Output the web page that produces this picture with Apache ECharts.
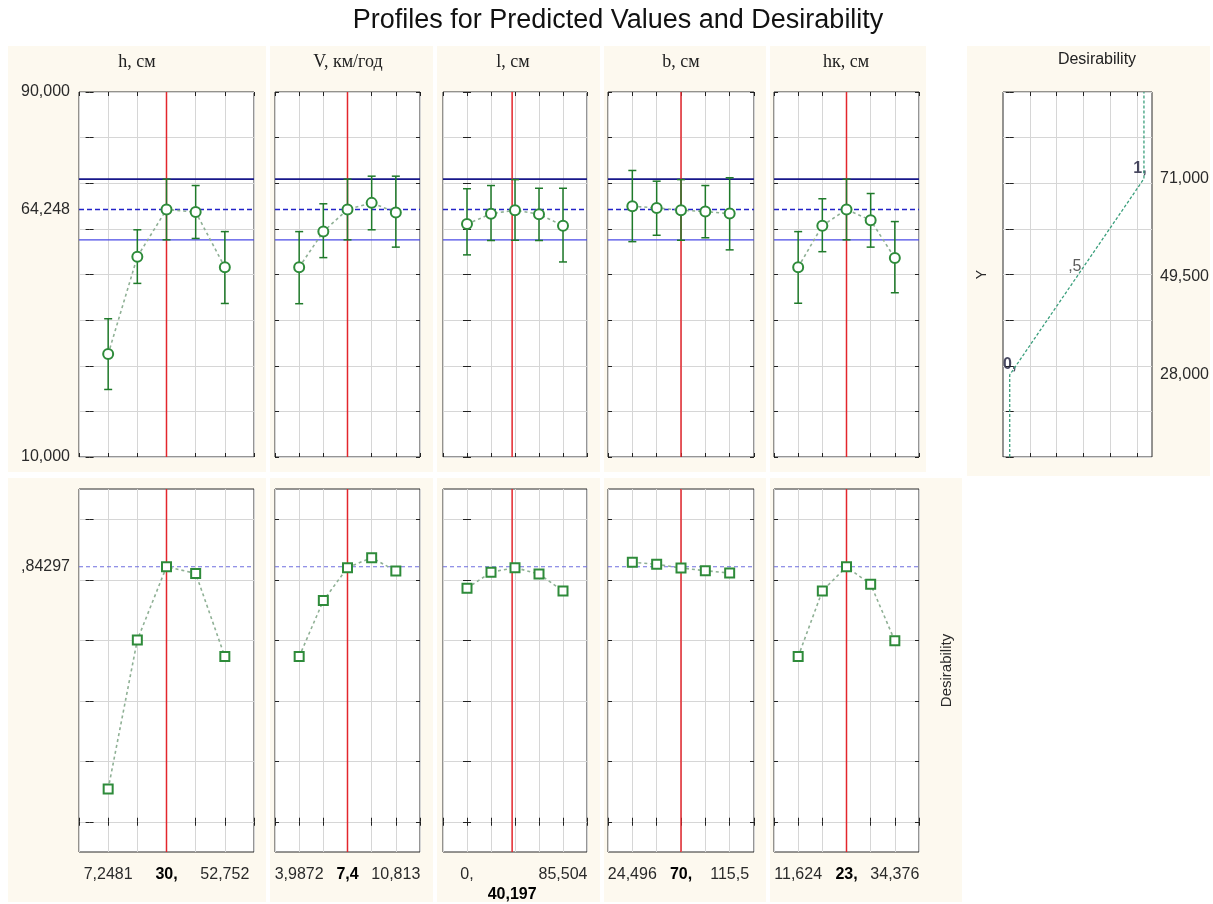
<!DOCTYPE html>
<html><head><meta charset="utf-8">
<script src="https://cdn.jsdelivr.net/npm/echarts@6/dist/echarts.min.js"></script>
<style>html,body{margin:0;padding:0;background:#fff}#c{width:1213px;height:904px}</style>
</head><body><div id="c"></div><script>
// ---------------- DATA ----------------
const chartTitle = 'Profiles for Predicted Values and Desirability';
const factorNames = ['h, см', 'V, км/год', 'l, см', 'b, см', 'hк, см'];
const levels = [
  [7.2481, 18.62405, 30, 41.37595, 52.752],
  [3.9872, 5.6936, 7.4, 9.1064, 10.813],
  [0, 21.376, 42.752, 64.128, 85.504],
  [24.496, 47.247, 69.998, 92.749, 115.5],
  [11.624, 17.312, 23, 28.688, 34.376]
];
const currentValues = [30, 7.4, 40.197, 70, 23];
const xLabelTexts = [
  ['7,2481', '30,', '52,752'],
  ['3,9872', '7,4', '10,813'],
  ['0,', '40,197', '85,504'],
  ['24,496', '70,', '115,5'],
  ['11,624', '23,', '34,376']
];
const predicted = [
  [32.55, 53.9, 64.25, 63.7, 51.6],
  [51.6, 59.4, 64.25, 65.7, 63.6],
  [61.05, 63.3, 64.1, 63.2, 60.7],
  [64.95, 64.6, 64.1, 63.8, 63.35],
  [51.6, 60.7, 64.25, 61.9, 53.6]
];
const ciLower = [
  [24.8, 48.05, 57.6, 57.9, 43.65],
  [43.6, 53.7, 57.6, 59.8, 56.0],
  [54.3, 57.45, 57.5, 57.45, 52.75],
  [57.2, 58.6, 57.5, 58.05, 55.4],
  [43.7, 55.0, 57.6, 56.0, 46.0]
];
const ciUpper = [
  [40.3, 59.8, 70.9, 69.5, 59.4],
  [59.4, 65.5, 70.9, 71.55, 71.55],
  [68.8, 69.5, 70.8, 68.9, 68.9],
  [72.8, 70.45, 70.8, 69.5, 71.2],
  [59.4, 66.6, 70.9, 67.75, 61.6]
];
const desirability = [
  [0.108, 0.601, 0.843, 0.821, 0.546],
  [0.546, 0.731, 0.840, 0.873, 0.829],
  [0.772, 0.825, 0.840, 0.819, 0.763],
  [0.858, 0.851, 0.839, 0.830, 0.822],
  [0.546, 0.763, 0.843, 0.785, 0.598]
];
const predCurrent = 64.248, ciCurrentUpper = 70.9, ciCurrentLower = 57.6, desirCurrent = 0.84297;
const yTickValues = [10, 20, 30, 40, 50, 60, 70, 80, 90];
const yLabelValues = [10, 64.248, 90];
const yLabelTexts = ['10,000', '64,248', '90,000'];
const dTickValues = [0, 0.2, 0.4, 0.6, 0.8, 1.0];
const dLabelValues = [0.84297];
const dLabelTexts = [',84297'];
// desirability function (Desirability vs Y)
const desFuncD = [0, 0, 0.5, 1, 1];
const desFuncY = [10, 28, 49.5, 71, 90];
const desPointD = [0, 0.5, 1];
const desPointY = [28, 49.5, 71];
const desPointTexts = ['0,', ',5', '1,'];
const desYLabelValues = [28, 49.5, 71];
const desYLabelTexts = ['28,000', '49,500', '71,000'];
const desXTicks = [0.15, 0.35, 0.55, 0.75, 0.95];

// ---------------- LAYOUT ----------------
const panelX = [[79, 254], [275, 420], [443, 587], [608, 754], [774, 919]];
const topRow = {top: 92, height: 365};
const botRow = {top: 489, height: 363};
const desPanel = {left: 1003, width: 149};
const headerX = [137, 348, 513, 681, 846];
const SANS = 'Liberation Sans, Arial, sans-serif';
const SERIF = 'Liberation Serif, Times New Roman, serif';

const grids = [], xAxes = [], yAxes = [], series = [];
const splitL = {show: true, lineStyle: {color: '#d6d6d6', width: 1}};
const tickS = {show: true, inside: true, length: 4, lineStyle: {color: '#222', width: 1}};
const labelS = {fontFamily: SANS, fontSize: 16, color: '#2a2a2a'};

function near(a, b) { return Math.abs(a - b) < 1e-6; }
function fmtFrom(vals, texts) {
  return function (v) { for (let k = 0; k < vals.length; k++) if (near(v, vals[k])) return texts[k]; return ''; };
}
function addGrid(left, top, width, height) {
  grids.push({left, top, width, height, show: true, backgroundColor: '#fff', borderColor: '#2a2a2a', borderWidth: 1,
    containLabel: false, outerBoundsMode: 'none'});
  return grids.length - 1;
}
function addX(g, min, max, ticks, label) {
  xAxes.push({type: 'value', gridIndex: g, position: 'bottom', min, max,
    axisLine: {show: false}, axisTick: Object.assign({}, tickS, {customValues: ticks}), splitLine: splitL,
    axisLabel: label || {show: false}});
  xAxes.push({type: 'value', gridIndex: g, position: 'top', min, max,
    axisLine: {show: false}, axisTick: Object.assign({}, tickS, {customValues: ticks}), splitLine: {show: false},
    axisLabel: {show: false}});
  return xAxes.length - 2;
}
function addY(g, min, max, ticks, leftLabel, rightExtra, mainRight) {
  const main = {type: 'value', gridIndex: g, position: mainRight ? 'right' : 'left', min, max,
    axisLine: {show: false}, axisTick: Object.assign({}, tickS, {customValues: ticks}), splitLine: splitL,
    axisLabel: leftLabel || {show: false}};
  const helper = Object.assign({type: 'value', gridIndex: g, position: mainRight ? 'left' : 'right', min, max,
    axisLine: {show: false}, axisTick: Object.assign({}, tickS, {customValues: ticks}), splitLine: {show: false},
    axisLabel: {show: false}}, rightExtra || {});
  yAxes.push(main); yAxes.push(helper);
  return yAxes.length - 2;
}
// reference line segment drawn through the axes' scales (custom series)
function refLine(xi, yi, pts, color, width, dash, z) {
  series.push({type: 'custom', xAxisIndex: xi, yAxisIndex: yi, silent: true, animation: false, z: z || 3,
    encode: {x: [0, 2], y: [1, 3]},
    data: [[pts[0][0], pts[0][1], pts[1][0], pts[1][1]]],
    renderItem: function (params, api) {
      const a = api.coord([api.value(0), api.value(1)]);
      const b = api.coord([api.value(2), api.value(3)]);
      return {type: 'line', shape: {x1: a[0], y1: a[1], x2: b[0], y2: b[1]},
        style: {stroke: color, lineWidth: width, lineDash: dash || null, fill: null}};
    }});
}

function errorBarItem(params, api) {
  const x = api.value(0), lo = api.value(1), hi = api.value(2);
  const a = api.coord([x, lo]), b = api.coord([x, hi]);
  const c = 4;
  const st = {stroke: '#1f7a2a', lineWidth: 1.5};
  return {type: 'group', children: [
    {type: 'line', shape: {x1: a[0], y1: a[1], x2: b[0], y2: b[1]}, style: st},
    {type: 'line', shape: {x1: a[0] - c, y1: a[1], x2: a[0] + c, y2: a[1]}, style: st},
    {type: 'line', shape: {x1: b[0] - c, y1: b[1], x2: b[0] + c, y2: b[1]}, style: st}
  ]};
}

for (let p = 0; p < 5; p++) {
  const L = levels[p];
  const step = (L[4] - L[0]) / 4;
  const xmin = L[0] - step, xmax = L[4] + step;
  const xt = [xmin].concat(L, [xmax]);
  const [x0, x1] = panelX[p];
  const cur = currentValues[p];

  // ---- top row: predicted values ----
  const gt = addGrid(x0, topRow.top, x1 - x0, topRow.height);
  const xiT = addX(gt, xmin, xmax, xt, null);
  const yiT = addY(gt, 10, 90, yTickValues,
    p === 0 ? Object.assign({show: true, customValues: yLabelValues, formatter: fmtFrom(yLabelValues, yLabelTexts), margin: 9}, labelS) : null);
  refLine(xiT, yiT, [[xmin, ciCurrentUpper], [xmax, ciCurrentUpper]], '#17178a', 1.7, null);
  refLine(xiT, yiT, [[xmin, predCurrent], [xmax, predCurrent]], '#2323c8', 1.5, [5, 3]);
  refLine(xiT, yiT, [[xmin, ciCurrentLower], [xmax, ciCurrentLower]], '#4a4ae6', 1.3, null);
  refLine(xiT, yiT, [[cur, 10], [cur, 90]], '#e3262c', 1.5, null, 3);
  series.push({type: 'custom', xAxisIndex: xiT, yAxisIndex: yiT, silent: true, animation: false, z: 4,
    encode: {x: 0, y: [1, 2]}, renderItem: errorBarItem,
    data: L.map((x, i) => [x, ciLower[p][i], ciUpper[p][i]])});
  series.push({type: 'line', xAxisIndex: xiT, yAxisIndex: yiT, silent: true, animation: false,
    data: L.map((x, i) => [x, predicted[p][i]]),
    symbol: 'emptyCircle', symbolSize: 10, itemStyle: {color: '#2e8b3a', borderWidth: 1.2},
    lineStyle: {color: '#8fb095', width: 1.6, type: [3, 3]}, z: 5});

  // ---- bottom row: desirability ----
  const gb = addGrid(x0, botRow.top, x1 - x0, botRow.height);
  const lv = [L[0], cur, L[4]];
  const tx = xLabelTexts[p];
  const xfmt = function (v) {
    for (let k = 0; k < 3; k++) if (near(v, lv[k])) {
      if (k === 1) return (p === 2 ? '\n' : '') + '{b|' + tx[k] + '}';
      return tx[k];
    }
    return '';
  };
  const xiB = addX(gb, xmin, xmax, xt, Object.assign({show: true, customValues: lv, formatter: xfmt, margin: 13, lineHeight: 20,
    hideOverlap: false,
    rich: {b: {fontWeight: 'bold', color: '#000', fontSize: 16, fontFamily: SANS, lineHeight: 20}}}, labelS));
  const yiB = addY(gb, -0.1, 1.1, dTickValues,
    p === 0 ? Object.assign({show: true, customValues: dLabelValues, formatter: fmtFrom(dLabelValues, dLabelTexts), margin: 9}, labelS) : null,
    p === 4 ? {name: 'Desirability', nameLocation: 'middle', nameRotate: 90, nameGap: 20,
      nameTextStyle: {fontFamily: SANS, fontSize: 15, color: '#2a2a2a'}} : null);
  refLine(xiB, yiB, [[xmin, desirCurrent], [xmax, desirCurrent]], '#6f6fe0', 1.1, [4, 3]);
  refLine(xiB, yiB, [[cur, -0.1], [cur, 1.1]], '#e3262c', 1.5, null, 3);
  series.push({type: 'line', xAxisIndex: xiB, yAxisIndex: yiB, silent: true, animation: false,
    data: L.map((x, i) => [x, desirability[p][i]]),
    symbol: 'emptyRect', symbolSize: 9, itemStyle: {color: '#2e8b3a', borderWidth: 1.2},
    lineStyle: {color: '#8fb095', width: 1.6, type: [3, 3]}, z: 5});
}

// ---- desirability function panel ----
const gd = addGrid(desPanel.left, topRow.top, desPanel.width, topRow.height);
const xiD = addX(gd, -0.05, 1.06, desXTicks, null);
const yiD = addY(gd, 10, 90, yTickValues,
  Object.assign({show: true, customValues: desYLabelValues, formatter: fmtFrom(desYLabelValues, desYLabelTexts), margin: 8}, labelS),
  {name: 'Y', nameLocation: 'middle', nameRotate: 90, nameGap: 14, nameTextStyle: {fontFamily: SANS, fontSize: 14, color: '#2a2a2a'}},
  true);
series.push({type: 'line', xAxisIndex: xiD, yAxisIndex: yiD, silent: true, animation: false, symbol: 'none',
  data: desFuncD.map((d, i) => [d, desFuncY[i]]),
  lineStyle: {color: '#3a9f7c', width: 1.3, type: [3, 2]}});
series.push({type: 'scatter', xAxisIndex: xiD, yAxisIndex: yiD, silent: true, animation: false,
  symbol: 'circle', symbolSize: 1, itemStyle: {color: 'rgba(0,0,0,0)'},
  data: desPointD.map((d, i) => ({value: [d, desPointY[i]], name: desPointTexts[i],
    label: {show: true, position: 'top', distance: 2, offset: i === 2 ? [-4, 0] : (i === 1 ? [-2, 0] : [0, 0]),
      formatter: desPointTexts[i], fontFamily: SANS, fontSize: 16,
      fontWeight: i === 1 ? 'normal' : 'bold', color: i === 1 ? '#333' : '#1b1b3a'}}))});

// ---------------- decoration ----------------
const cream = '#fdf9ef';
const cells = [
  [8, 46, 258, 426], [270, 46, 163, 426], [437, 46, 163, 426], [604, 46, 162, 426], [770, 46, 156, 426],
  [967, 46, 243, 430],
  [8, 478, 258, 424], [270, 478, 163, 424], [437, 478, 163, 424], [604, 478, 162, 424], [770, 478, 192, 424]
];
const graphic = cells.map(c => ({type: 'rect', z: -100, silent: true, shape: {x: c[0], y: c[1], width: c[2], height: c[3]}, style: {fill: cream}}));
graphic.push({type: 'text', z: 100, silent: true, x: 618, y: 21, style: {text: chartTitle, font: '27px ' + SANS, fill: '#111', textAlign: 'center', textVerticalAlign: 'middle'}});
factorNames.forEach((n, i) => graphic.push({type: 'text', z: 100, silent: true, x: headerX[i], y: 62,
  style: {text: n, font: '18px ' + SERIF, fill: '#222', textAlign: 'center', textVerticalAlign: 'middle'}}));
graphic.push({type: 'text', z: 100, silent: true, x: 1097, y: 60, style: {text: 'Desirability', font: '16px ' + SANS, fill: '#222', textAlign: 'center', textVerticalAlign: 'middle'}});

const chart = echarts.init(document.getElementById('c'), null, {renderer: 'canvas'});
chart.setOption({backgroundColor: '#fff', animation: false, grid: grids, xAxis: xAxes, yAxis: yAxes, series, graphic});
</script></body></html>
